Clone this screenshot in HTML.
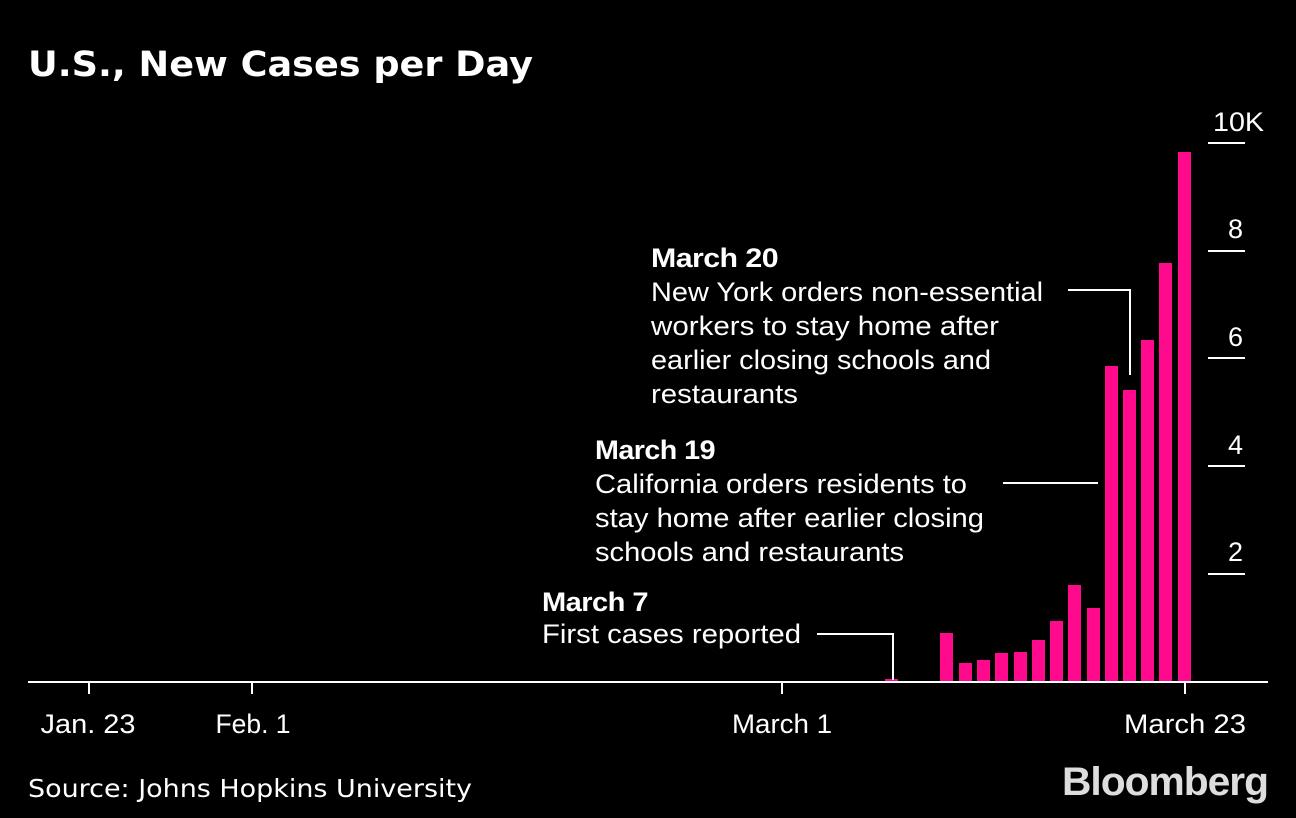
<!DOCTYPE html>
<html><head><meta charset="utf-8"><style>
html,body{margin:0;padding:0;background:#000;}
svg{display:block}
</style></head><body>
<svg width="1296" height="818" viewBox="0 0 1296 818" xmlns="http://www.w3.org/2000/svg">
<rect width="1296" height="818" fill="#000"/>
<text x="28" y="76" fill="#fff" font-family="DejaVu Sans, Liberation Sans, sans-serif" font-weight="bold" font-size="35" textLength="505" lengthAdjust="spacingAndGlyphs">U.S., New Cases per Day</text>

<g stroke="#fff" stroke-width="2">
<line x1="1208" y1="143" x2="1245" y2="143"/>
<line x1="1208" y1="251" x2="1245" y2="251"/>
<line x1="1208" y1="358" x2="1245" y2="358"/>
<line x1="1208" y1="466" x2="1245" y2="466"/>
<line x1="1208" y1="574" x2="1245" y2="574"/>
</g>
<g fill="#fff" font-family="Liberation Sans, sans-serif" font-size="27" text-anchor="end">
<text x="1264" y="131" textLength="51" lengthAdjust="spacingAndGlyphs">10K</text>
<text x="1243" y="238">8</text>
<text x="1243" y="346">6</text>
<text x="1243" y="454">4</text>
<text x="1243" y="561">2</text>
</g>

<g fill="#ff0a8c">
<rect x="885" y="679" width="13" height="3"/>
<rect x="940" y="633" width="13" height="49"/>
<rect x="959" y="663" width="13" height="19"/>
<rect x="977" y="660" width="13" height="22"/>
<rect x="995" y="653" width="13" height="29"/>
<rect x="1014" y="652" width="13" height="30"/>
<rect x="1032" y="640" width="13" height="42"/>
<rect x="1050" y="621" width="13" height="61"/>
<rect x="1068" y="585" width="13" height="97"/>
<rect x="1087" y="608" width="13" height="74"/>
<rect x="1105" y="366" width="13" height="316"/>
<rect x="1123" y="390" width="13" height="292"/>
<rect x="1141" y="340" width="13" height="342"/>
<rect x="1159" y="263" width="13" height="419"/>
<rect x="1178" y="152" width="13" height="530"/>
</g>

<g stroke="#fff" stroke-width="2" fill="none">
<line x1="28" y1="682" x2="1268" y2="682"/>
<line x1="89" y1="682" x2="89" y2="694"/>
<line x1="252" y1="682" x2="252" y2="694"/>
<line x1="782" y1="682" x2="782" y2="694"/>
<line x1="1185" y1="682" x2="1185" y2="694"/>
<polyline points="1068,290 1130,290 1130,375"/>
<line x1="1003" y1="483" x2="1098" y2="483"/>
<polyline points="817,634 893,634 893,680"/>
</g>

<g fill="#fff" font-family="Liberation Sans, sans-serif" font-size="27" text-anchor="middle">
<text x="88" y="733" textLength="95" lengthAdjust="spacingAndGlyphs">Jan. 23</text>
<text x="253" y="733" textLength="75" lengthAdjust="spacingAndGlyphs">Feb. 1</text>
<text x="782" y="733" textLength="100" lengthAdjust="spacingAndGlyphs">March 1</text>
<text x="1185" y="733" textLength="122" lengthAdjust="spacingAndGlyphs">March 23</text>
</g>

<g fill="#fff" font-family="Liberation Sans, sans-serif" font-size="27">
<text x="651" y="267" font-weight="bold" letter-spacing="-0.5" textLength="127" lengthAdjust="spacingAndGlyphs">March 20</text>
<text x="651" y="301" textLength="392" lengthAdjust="spacingAndGlyphs">New York orders non-essential</text>
<text x="651" y="335" textLength="348" lengthAdjust="spacingAndGlyphs">workers to stay home after</text>
<text x="651" y="369" textLength="340" lengthAdjust="spacingAndGlyphs">earlier closing schools and</text>
<text x="651" y="403" textLength="147" lengthAdjust="spacingAndGlyphs">restaurants</text>

<text x="595" y="459" font-weight="bold" letter-spacing="-0.5" textLength="120" lengthAdjust="spacingAndGlyphs">March 19</text>
<text x="595" y="493" textLength="372" lengthAdjust="spacingAndGlyphs">California orders residents to</text>
<text x="595" y="527" textLength="389" lengthAdjust="spacingAndGlyphs">stay home after earlier closing</text>
<text x="595" y="561" textLength="309" lengthAdjust="spacingAndGlyphs">schools and restaurants</text>

<text x="542" y="611" font-weight="bold" letter-spacing="-0.5" textLength="106" lengthAdjust="spacingAndGlyphs">March 7</text>
<text x="542" y="643" textLength="259" lengthAdjust="spacingAndGlyphs">First cases reported</text>
</g>

<text x="28" y="797" fill="#fff" font-family="DejaVu Sans, Liberation Sans, sans-serif" font-size="25" textLength="444" lengthAdjust="spacingAndGlyphs">Source: Johns Hopkins University</text>
<text x="1062" y="795" fill="#ddd" font-family="Liberation Sans, sans-serif" font-weight="bold" font-size="40" textLength="206" lengthAdjust="spacingAndGlyphs" letter-spacing="-1">Bloomberg</text>
</svg>
</body></html>
